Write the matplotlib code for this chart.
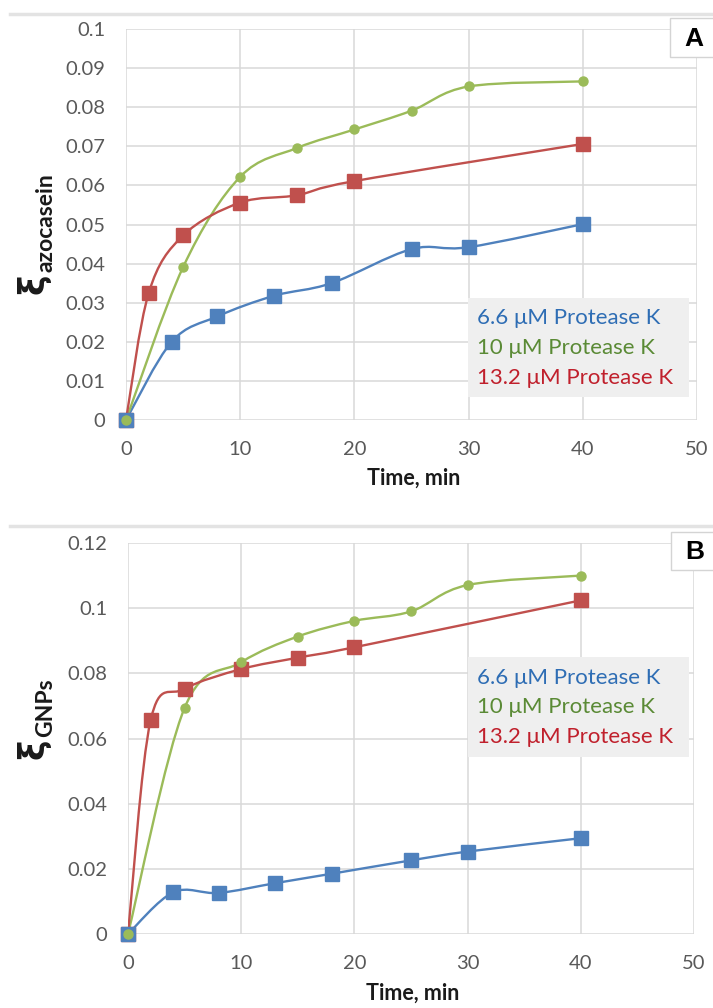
import numpy as np
import matplotlib
matplotlib.use("Agg")
import matplotlib.pyplot as plt
from matplotlib.path import Path
from matplotlib.patches import PathPatch, Rectangle

# sampling times (min) for each enzyme concentration
t_66 = [0, 4, 8, 13, 18, 25, 30, 40]
t_10 = [0, 5, 10, 15, 20, 25, 30, 40]
t_132 = [0, 2, 5, 10, 15, 20, 40]

# panel A: azocasein
azo_66 = [0, 0.0200, 0.0265, 0.0318, 0.0350, 0.0437, 0.0442, 0.0501]
azo_10 = [0, 0.0391, 0.0622, 0.0696, 0.0743, 0.0791, 0.0853, 0.0866]
azo_132 = [0, 0.0326, 0.0472, 0.0556, 0.0575, 0.0611, 0.0706]

# panel B: GNPs
gnp_66 = [0, 0.0128, 0.0126, 0.0156, 0.0185, 0.0226, 0.0253, 0.0294]
gnp_10 = [0, 0.0694, 0.0834, 0.0913, 0.0961, 0.0990, 0.1071, 0.1100]
gnp_132 = [0, 0.0656, 0.0752, 0.0813, 0.0848, 0.0880, 0.1024]

series_names = ["6.6 \u03bcM Protease K", "10 \u03bcM Protease K", "13.2 \u03bcM Protease K"]
x_ticks = [0, 10, 20, 30, 40, 50]
azo_ticks = [0, 0.01, 0.02, 0.03, 0.04, 0.05, 0.06, 0.07, 0.08, 0.09, 0.1]
azo_tick_labels = ["0", "0.01", "0.02", "0.03", "0.04", "0.05", "0.06", "0.07", "0.08", "0.09", "0.1"]
gnp_ticks = [0, 0.02, 0.04, 0.06, 0.08, 0.1, 0.12]
gnp_tick_labels = ["0", "0.02", "0.04", "0.06", "0.08", "0.1", "0.12"]

line_colors = ["#4F81BD", "#9BBB59", "#C0504D"]
text_colors = ["#2E6DB4", "#5A8A35", "#C0202C"]

W, H = 713, 1008
fig = plt.figure(figsize=(W / 100, H / 100), dpi=100)


def fx(px):
    return px / W


def fy(py):
    return (H - py) / H


def smooth_line(ax, x, y, color):
    # bezier smoothing like a spreadsheet "smoothed line" series
    pts = ax.transData.transform(np.column_stack([x, y]))
    n = len(pts)
    verts = [pts[0]]
    codes = [Path.MOVETO]
    for i in range(n - 1):
        p0 = pts[max(i - 1, 0)]
        p1 = pts[i]
        p2 = pts[i + 1]
        p3 = pts[min(i + 2, n - 1)]
        verts += [p1 + (p2 - p0) / 6, p2 - (p3 - p1) / 6, p2]
        codes += [Path.CURVE4] * 3
    verts = ax.transData.inverted().transform(np.array(verts))
    ax.add_patch(PathPatch(Path(verts, codes), fill=False, edgecolor=color,
                           lw=1.7, zorder=2, capstyle="round"))


def make_panel(box, ticks, tick_labels, data, letter, letter_box, legend_box, legend_y,
               xi_pos, sub_text, sep_y, xlabel_y):
    left, top, right, bottom = box
    ax = fig.add_axes([fx(left), fy(bottom), fx(right) - fx(left), fy(top) - fy(bottom)])
    ax.set_xlim(0, 50)
    ax.set_ylim(ticks[0], ticks[-1])
    ax.set_xticks(x_ticks)
    ax.set_yticks(ticks)
    ax.set_yticklabels(tick_labels)
    for s in ax.spines.values():
        s.set_visible(False)
    ax.grid(True, color="#D9D9D9", lw=1.1)
    ax.set_axisbelow(True)
    ax.tick_params(length=0, pad=15, labelsize=14.5, labelcolor="#595959")
    for lab in ax.get_xticklabels() + ax.get_yticklabels():
        lab.set_family("Lato")

    times = [t_66, t_10, t_132]
    markers = [("s", 9.5, 4), ("o", 6.5, 5), ("s", 10.5, 3)]
    for t, y, c, (m, ms, z) in zip(times, data, line_colors, markers):
        smooth_line(ax, t, y, c)
        ax.plot(t, y, ls="none", marker=m, ms=ms, color=c, mec=c, zorder=z, clip_on=False)

    # x axis title
    fig.text(fx((left + right) / 2 + 2), fy(xlabel_y), "Time, min", ha="center", va="center",
             family="Lato", weight="bold", size=15.5, color="#1A1A1A")

    # y axis title: xi with subscript
    xi_x, xi_y = xi_pos
    fig.text(fx(xi_x), fy(xi_y), "\u03be", rotation=90, ha="center", va="center",
             family="DejaVu Sans", weight="bold", size=25, color="#1A1A1A")
    fig.text(fx(xi_x + 12), fy(xi_y - 12), sub_text, rotation=90, ha="center", va="bottom",
             family="Lato", weight="bold", size=16.5, color="#1A1A1A")

    # separator line above the chart
    fig.add_artist(plt.Line2D([fx(10), fx(W)], [fy(sep_y), fy(sep_y)], color="#E3E3E3", lw=2.5))

    # panel letter
    lx0, ly0, lx1, ly1 = letter_box
    fig.add_artist(Rectangle((fx(lx0), fy(ly1)), fx(lx1) - fx(lx0), fy(ly0) - fy(ly1),
                             facecolor="white", edgecolor="#D4D4D4", lw=1, zorder=5))
    fig.text(fx(lx0 + 24), fy((ly0 + ly1) / 2 + 1), letter, ha="center", va="center",
             family="Liberation Sans", weight="bold", size=19, color="black", zorder=6)

    # legend block
    gx0, gy0, gx1, gy1 = legend_box
    fig.add_artist(Rectangle((fx(gx0), fy(gy1)), fx(gx1) - fx(gx0), fy(gy0) - fy(gy1),
                             facecolor="#EFEFEF", edgecolor="none", zorder=5))
    for name, c, yy in zip(series_names, text_colors, legend_y):
        fig.text(fx(gx0 + 9), fy(yy), name, ha="left", va="center", family="Lato",
                 size=16, color=c, zorder=6)
    return ax


make_panel((126, 29, 697, 420), azo_ticks, azo_tick_labels, [azo_66, azo_10, azo_132],
           "A", (670, 18, 716, 57), (468, 298, 689, 397), [318, 348, 378],
           (34, 284), "azocasein", 14, 478)

make_panel((128, 543, 694, 934), gnp_ticks, gnp_tick_labels, [gnp_66, gnp_10, gnp_132],
           "B", (671, 532, 716, 570), (468, 657, 689, 757), [678, 707, 737],
           (34, 749), "GNPs", 526, 993)

fig.savefig("out.png", dpi=100, facecolor="white")
